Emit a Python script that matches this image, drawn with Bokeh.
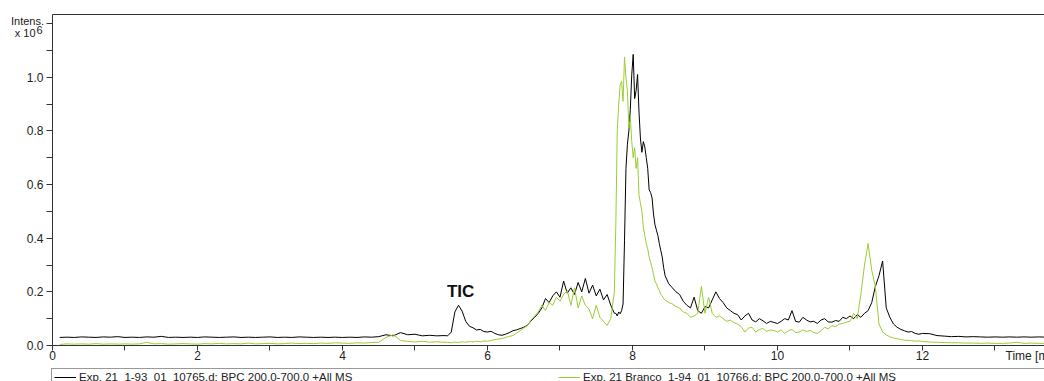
import numpy as np
from bokeh.plotting import figure
from bokeh.models import (Range1d, FixedTicker, Legend, LegendItem, Label,
                          LinearAxis, PrintfTickFormatter)
from bokeh.embed import file_html
from bokeh.resources import INLINE

# ---------------- data (retention time in min, intensity x10^6) ----------------
time_a = [0.1, 0.2, 0.3, 0.4, 0.5, 0.6, 0.7, 0.8, 0.9, 1.0,
          1.1, 1.2, 1.3, 1.4, 1.5, 1.6, 1.7, 1.8, 1.9, 2.0,
          2.1, 2.2, 2.3, 2.4, 2.5, 2.6, 2.7, 2.8, 2.9, 3.0,
          3.1, 3.2, 3.3, 3.4, 3.5, 3.6, 3.7, 3.8, 3.9, 4.0,
          4.1, 4.2, 4.3, 4.4, 4.5, 4.6, 4.7, 4.8, 4.9, 5.0,
          5.1, 5.2, 5.3, 5.4]
black_a = [0.030, 0.031, 0.030, 0.032, 0.031, 0.030, 0.032, 0.031, 0.033, 0.030,
           0.031, 0.030, 0.032, 0.031, 0.034, 0.030, 0.031, 0.030, 0.031, 0.030,
           0.032, 0.031, 0.030, 0.031, 0.032, 0.030, 0.031, 0.030, 0.031, 0.032,
           0.030, 0.031, 0.030, 0.032, 0.031, 0.030, 0.031, 0.030, 0.031, 0.030,
           0.031, 0.030, 0.032, 0.031, 0.033, 0.040, 0.036, 0.048, 0.040, 0.042,
           0.036, 0.038, 0.036, 0.037]
green_a = [0.004, 0.006, 0.005, 0.006, 0.005, 0.007, 0.005, 0.006, 0.005, 0.006,
           0.005, 0.006, 0.012, 0.006, 0.007, 0.005, 0.006, 0.007, 0.006, 0.005,
           0.007, 0.006, 0.008, 0.006, 0.007, 0.006, 0.009, 0.006, 0.007, 0.008,
           0.006, 0.007, 0.009, 0.007, 0.008, 0.007, 0.009, 0.008, 0.010, 0.009,
           0.008, 0.010, 0.009, 0.011, 0.012, 0.030, 0.040, 0.019, 0.015, 0.013,
           0.016, 0.012, 0.014, 0.012]

time_b = [5.45, 5.50, 5.55, 5.60, 5.65, 5.70, 5.75, 5.80, 5.85, 5.90,
          5.95, 6.00, 6.05, 6.10, 6.15, 6.20, 6.25, 6.30, 6.35, 6.40,
          6.45, 6.50, 6.55, 6.60, 6.65, 6.70, 6.75, 6.80, 6.85, 6.90,
          6.95, 7.00, 7.05, 7.10, 7.15, 7.20, 7.25, 7.30, 7.35, 7.40,
          7.45, 7.50, 7.55, 7.60, 7.65, 7.70, 7.75]
black_b = [0.036, 0.050, 0.125, 0.150, 0.128, 0.090, 0.072, 0.066, 0.058, 0.060,
           0.052, 0.050, 0.053, 0.045, 0.040, 0.038, 0.042, 0.048, 0.055, 0.058,
           0.063, 0.068, 0.075, 0.092, 0.105, 0.120, 0.140, 0.175, 0.160, 0.185,
           0.200, 0.180, 0.240, 0.195, 0.215, 0.190, 0.235, 0.200, 0.250, 0.195,
           0.225, 0.185, 0.210, 0.170, 0.190, 0.150, 0.120]
green_b = [0.012, 0.010, 0.013, 0.011, 0.014, 0.012, 0.015, 0.013, 0.016, 0.014,
           0.017, 0.016, 0.019, 0.022, 0.024, 0.026, 0.030, 0.034, 0.037, 0.046,
           0.055, 0.065, 0.074, 0.095, 0.110, 0.125, 0.150, 0.130, 0.160, 0.150,
           0.180, 0.165, 0.190, 0.205, 0.150, 0.215, 0.140, 0.185, 0.150, 0.135,
           0.100, 0.150, 0.105, 0.090, 0.075, 0.100, 0.200]

time_c = [7.77, 7.79, 7.81, 7.83, 7.85, 7.87, 7.89, 7.91, 7.93, 7.95,
          7.97, 7.99, 8.01, 8.03, 8.05, 8.07, 8.09, 8.11, 8.13, 8.15,
          8.17, 8.19, 8.21, 8.23, 8.25, 8.27, 8.29, 8.31, 8.33, 8.35,
          8.37, 8.39, 8.41, 8.43, 8.45]
black_c = [0.120, 0.110, 0.125, 0.118, 0.130, 0.155, 0.390, 0.660, 0.750, 0.800,
           0.880, 1.010, 1.085, 0.920, 0.950, 1.010, 0.870, 0.770, 0.720, 0.760,
           0.740, 0.700, 0.660, 0.580, 0.570, 0.550, 0.490, 0.450, 0.430, 0.410,
           0.380, 0.355, 0.330, 0.290, 0.260]
green_c = [0.450, 0.800, 0.900, 0.970, 0.985, 0.910, 1.075, 1.000, 0.950, 0.810,
           0.850, 0.760, 0.700, 0.737, 0.660, 0.700, 0.560, 0.530, 0.500, 0.440,
           0.410, 0.380, 0.360, 0.330, 0.310, 0.290, 0.265, 0.240, 0.230, 0.216,
           0.205, 0.190, 0.185, 0.175, 0.170]

time_d = [8.50, 8.55, 8.60, 8.65, 8.70, 8.75, 8.80, 8.85, 8.90, 8.95,
          9.00, 9.05, 9.10, 9.15, 9.20, 9.25, 9.30, 9.35, 9.40, 9.45,
          9.50, 9.55, 9.60, 9.65, 9.70, 9.75, 9.80, 9.85, 9.90, 9.95,
          10.00, 10.05, 10.10, 10.15, 10.20, 10.25, 10.30, 10.35, 10.40, 10.45,
          10.50, 10.55, 10.60, 10.65, 10.70, 10.75, 10.80, 10.85, 10.90, 10.95,
          11.00, 11.05, 11.10, 11.15, 11.20, 11.25, 11.30, 11.35, 11.40, 11.45,
          11.50, 11.55, 11.60, 11.65, 11.70, 11.75, 11.80, 11.85, 11.90, 11.95,
          12.00]
black_d = [0.230, 0.215, 0.200, 0.190, 0.165, 0.150, 0.140, 0.180, 0.130, 0.120,
           0.145, 0.140, 0.170, 0.200, 0.175, 0.160, 0.140, 0.130, 0.120, 0.115,
           0.095, 0.110, 0.120, 0.095, 0.088, 0.100, 0.092, 0.082, 0.090, 0.086,
           0.082, 0.090, 0.100, 0.095, 0.130, 0.090, 0.087, 0.105, 0.095, 0.088,
           0.090, 0.082, 0.095, 0.100, 0.088, 0.087, 0.093, 0.090, 0.105, 0.100,
           0.110, 0.100, 0.115, 0.105, 0.120, 0.130, 0.160, 0.220, 0.260, 0.315,
           0.140, 0.105, 0.080, 0.068, 0.060, 0.055, 0.050, 0.052, 0.045, 0.042,
           0.045]
green_d = [0.160, 0.155, 0.145, 0.140, 0.125, 0.120, 0.105, 0.110, 0.120, 0.220,
           0.120, 0.180, 0.120, 0.105, 0.110, 0.100, 0.090, 0.095, 0.085, 0.080,
           0.070, 0.050, 0.065, 0.068, 0.050, 0.060, 0.063, 0.052, 0.058, 0.056,
           0.050, 0.058, 0.045, 0.055, 0.060, 0.048, 0.050, 0.058, 0.052, 0.056,
           0.048, 0.045, 0.055, 0.068, 0.062, 0.074, 0.070, 0.080, 0.082, 0.087,
           0.090, 0.120, 0.100, 0.190, 0.300, 0.380, 0.280, 0.220, 0.080, 0.050,
           0.040, 0.032, 0.028, 0.025, 0.022, 0.020, 0.019, 0.018, 0.016, 0.017,
           0.015]

time_e = [12.1, 12.2, 12.3, 12.4, 12.5, 12.6, 12.7, 12.8, 12.9, 13.0,
          13.1, 13.2, 13.3, 13.4, 13.5, 13.6, 13.7]
black_e = [0.044, 0.037, 0.035, 0.033, 0.034, 0.032, 0.033, 0.032, 0.031, 0.032,
           0.031, 0.032, 0.031, 0.032, 0.031, 0.032, 0.031]
green_e = [0.013, 0.012, 0.011, 0.010, 0.010, 0.009, 0.009, 0.008, 0.009, 0.008,
           0.008, 0.009, 0.012, 0.008, 0.009, 0.008, 0.008]

x_major_ticks = [0, 2, 4, 6, 8, 10, 12]
x_minor_ticks = [1, 3, 5, 7, 9, 11, 13]
y_major_ticks = [0.0, 0.2, 0.4, 0.6, 0.8, 1.0]
y_minor_ticks = [0.1, 0.3, 0.5, 0.7, 0.9, 1.1, 1.2]

label_black = "Exp. 21  1-93  01  10765.d: BPC 200.0-700.0 +All MS"
label_green = "Exp. 21 Branco  1-94  01  10766.d: BPC 200.0-700.0 +All MS"

time = time_a + time_b + time_c + time_d + time_e
black = black_a + black_b + black_c + black_d + black_e
green = green_a + green_b + green_c + green_d + green_e

# ---------------- figure ----------------
FONT = "Liberation Sans"
AX = "#333333"
GREEN = "#9ACD32"
X_END = 13.683      # right edge of the time axis
Y_TOP = 1.2326      # top of the intensity axis

# the frame covers the whole canvas; axes are pinned at t=0 / I=0
p = figure(width=1044, height=381, output_backend="svg", toolbar_location=None,
           x_range=Range1d(-0.7172, X_END), y_range=Range1d(-0.1342, 1.2859),
           min_border=0)
p.outline_line_color = None
p.xgrid.visible = False
p.ygrid.visible = False
p.background_fill_color = "white"
p.border_fill_color = "white"

r_black = p.line(time, black, line_color="black", line_width=1)
r_green = p.line(time, green, line_color=GREEN, line_width=1)

xa, ya = p.xaxis[0], p.yaxis[0]
for ax in (xa, ya):
    ax.fixed_location = 0
    ax.axis_line_color = AX
    ax.major_tick_line_color = AX
    ax.minor_tick_line_color = AX
    ax.major_tick_in = 0
    ax.minor_tick_in = 0
    ax.major_label_text_font = FONT
    ax.major_label_text_font_size = "12px"
    ax.major_label_text_color = "#222222"

xa.bounds = (0, X_END)
xa.ticker = FixedTicker(ticks=x_major_ticks, minor_ticks=x_minor_ticks)
xa.major_tick_out = 5
xa.minor_tick_out = 5
xa.major_label_standoff = 1

ya.bounds = (0, Y_TOP)
ya.ticker = FixedTicker(ticks=y_major_ticks, minor_ticks=y_minor_ticks)
ya.formatter = PrintfTickFormatter(format="%.1f")
ya.major_tick_out = 6
ya.minor_tick_out = 6
ya.major_label_standoff = 3

# top frame line (an axis without ticks)
top = LinearAxis(fixed_location=Y_TOP, bounds=(0, X_END), ticker=FixedTicker(ticks=[]),
                 axis_line_color=AX, major_tick_out=0, major_tick_in=0,
                 minor_tick_out=0, minor_tick_in=0)
p.add_layout(top, "above")

# texts
def txt(**kw):
    base = dict(text_font=FONT, text_color="#222222", text_baseline="alphabetic")
    base.update(kw)
    return Label(**base)

p.add_layout(txt(x=0, y=1.2087, x_offset=-8.5, text="Intens.", text_align="right",
                 text_font_size="11px"))
p.add_layout(txt(x=0, y=1.1655, x_offset=-17, text="x 10", text_align="right",
                 text_font_size="11px"))
p.add_layout(txt(x=0, y=1.1766, x_offset=-16, text="6", text_align="left",
                 text_font_size="11px"))
p.add_layout(txt(x=5.63, y=0.2, text="TIC", text_align="center",
                 text_font_style="bold", text_font_size="17px", text_color="#111111"))
p.add_layout(txt(x=13.145, y=-0.041, text="Time [min]", text_align="left",
                 text_baseline="middle", text_font_size="12px"))

legend = Legend(items=[LegendItem(label=label_black, renderers=[r_black]),
                       LegendItem(label=label_green, renderers=[r_green])],
                orientation="horizontal", location=(51, -5),
                label_text_font=FONT, label_text_font_size="11.5px",
                label_text_color="#222222",
                glyph_width=22, glyph_height=12, label_height=12, label_standoff=3,
                label_width=462, spacing=17, padding=2, margin=0,
                border_line_color=AX, border_line_width=1,
                background_fill_color="white", background_fill_alpha=1.0)
p.add_layout(legend)

open("out.html", "w").write(file_html(p, INLINE))
